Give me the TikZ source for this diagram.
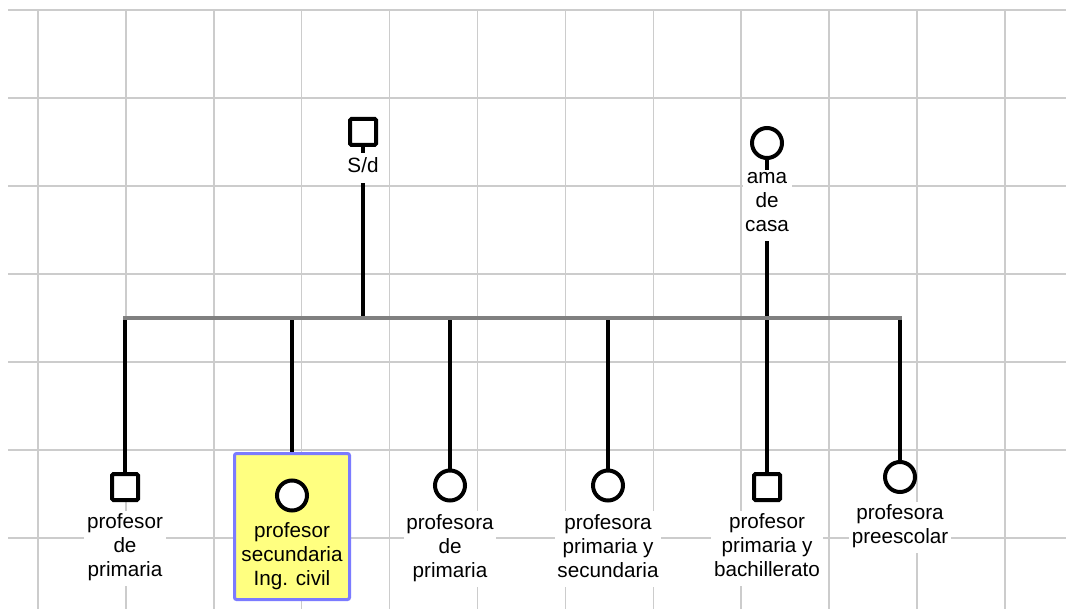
\documentclass[tikz,border=0pt]{standalone}
\usepackage{fontspec}
\setmainfont{Liberation Sans}
\usetikzlibrary{positioning}
\definecolor{gris}{HTML}{CCCCCC}
\definecolor{grisbarra}{HTML}{808080}
\definecolor{amarillo}{HTML}{FFFF80}
\definecolor{azul}{HTML}{7B7BFF}

\begin{document}
\begin{tikzpicture}[x=0.75pt, y=-0.75pt,
        hombre/.style={draw, line width=3pt, rectangle, rounded corners=1pt, minimum size=19.5pt, inner sep=0pt, fill=white},
        mujer/.style={draw, line width=3pt, circle, minimum size=22.5pt, inner sep=0pt, fill=white},
        linea/.style={line width=3pt},
        rejilla/.style={draw=gris, line width=1.1pt},
        barra/.style={draw=grisbarra, line width=3pt, line cap=rect},
        etiqueta/.style={fill=white, align=center, inner sep=2pt, font=\fontsize{15.5}{18}\selectfont, execute at begin node=\strut},
        caja/.style={draw=azul, fill=amarillo, line width=2.25pt, rounded corners=1.5pt, minimum width=86.25pt, minimum height=109.5pt}]
        \useasboundingbox (0,0) rectangle (1066,609);

        % Rejilla de fondo
        \foreach \i in {0,...,11}
            \draw[rejilla] (38+87.9*\i,10) -- (38+87.9*\i,609);
        \foreach \j in {0,...,6}
            \draw[rejilla] (8,10+88*\j) -- (1066,10+88*\j);

        % Padres
        \node[hombre] (padre) at (363,132) {};
        \node[mujer] (madre) at (767,143) {};

        % Caja del caso resaltado
        \node[caja] (caja) at (292,526.5) {};

        % Hijos
        \node[hombre] (hijo1) at (125,487) {};
        \node[mujer] (hijo2) at (292,495.5) {};
        \node[mujer] (hijo3) at (450,485.5) {};
        \node[mujer] (hijo4) at (608,485.5) {};
        \node[hombre] (hijo5) at (767,487) {};
        \node[mujer] (hijo6) at (900,477) {};

        % Puntos sobre la barra
        \coordinate (bp) at (363,318);
        \coordinate (b1) at (125,318);
        \coordinate (b2) at (292,318);
        \coordinate (b3) at (450,318);
        \coordinate (b4) at (608,318);
        \coordinate (b6) at (900,318);

        % Lineas de descendencia
        \draw[linea] (padre) -- (bp);
        \draw[linea] (madre) -- (hijo5);
        \draw[linea] (b1) -- (hijo1);
        \draw[linea] (b2) -- (caja);
        \draw[linea] (b3) -- (hijo3);
        \draw[linea] (b4) -- (hijo4);
        \draw[linea] (b6) -- (hijo6);
        \draw[barra] (b1) -- (b6);

        % Etiquetas
        \node[etiqueta, below=4.5pt of padre] (lpadre) {S/d};
        \node[etiqueta, below=7pt of madre] (lmadre) {ama\\de\\casa};
        \node[etiqueta, below=6.2pt of hijo1] (lhijo1) {profesor\\de\\primaria};
        \node[etiqueta, fill=none, below=5pt of hijo2] (lhijo2) {profesor\\secundaria\\Ing. civil};
        \node[etiqueta, below=6.5pt of hijo3] (lhijo3) {profesora\\de\\primaria};
        \node[etiqueta, below=6.5pt of hijo4] (lhijo4) {profesora\\primaria y\\secundaria};
        \node[etiqueta, below=6.2pt of hijo5] (lhijo5) {profesor\\primaria y\\bachillerato};
        \node[etiqueta, below=5.5pt of hijo6] (lhijo6) {profesora\\preescolar};
    \end{tikzpicture}
\end{document}
